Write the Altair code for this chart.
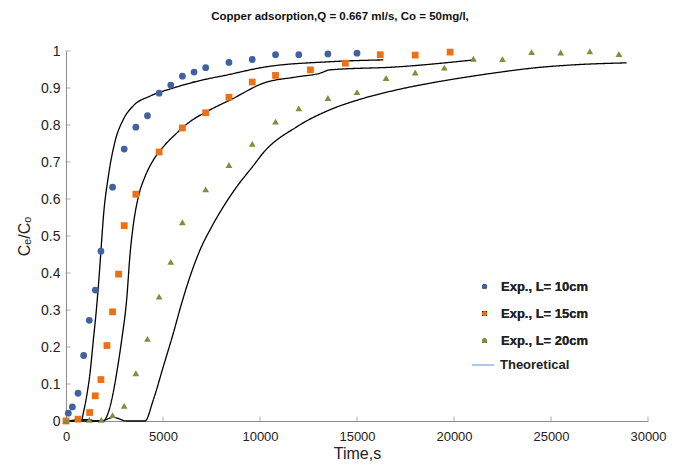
import altair as alt
import pandas as pd

TITLE = "Copper adsorption,Q = 0.667 ml/s, Co = 50mg/l,"
SERIES = ["Exp., L= 10cm", "Exp., L= 15cm", "Exp., L= 20cm"]
THEO = "Theoretical"

# experimental data
t10 = [120, 330, 620, 910, 1200, 1510, 1800, 2400, 3000, 3600, 4200, 4800, 5400, 6000,
       6600, 7200, 8400, 9600, 10800, 12000, 13500, 15000]
c10 = [0.021, 0.038, 0.075, 0.177, 0.272, 0.354, 0.459, 0.632, 0.735, 0.794, 0.825, 0.886,
       0.908, 0.932, 0.943, 0.955, 0.969, 0.977, 0.990, 0.990, 0.992, 0.994]

t15 = [0, 620, 1220, 1510, 1800, 2110, 2400, 2710, 3000, 3600, 4800, 6000, 7200, 8400,
       9600, 10800, 12600, 14400, 16200, 18000, 19800]
c15 = [0.0, 0.005, 0.023, 0.068, 0.112, 0.204, 0.295, 0.397, 0.528, 0.613, 0.727, 0.792,
       0.833, 0.875, 0.916, 0.934, 0.949, 0.967, 0.990, 0.989, 0.997]

t20 = [0, 1200, 1820, 2400, 3000, 3600, 4200, 4800, 5400, 6000, 7200, 8400, 9600, 10800,
       12000, 13500, 15000, 16500, 18000, 19500, 21000, 22500, 24000, 25500, 27000, 28500]
c20 = [0.0, 0.003, 0.003, 0.016, 0.041, 0.129, 0.222, 0.336, 0.430, 0.537, 0.626, 0.692,
       0.749, 0.809, 0.845, 0.873, 0.889, 0.927, 0.942, 0.955, 0.979, 0.978, 0.997, 0.996,
       0.999, 0.992]

# theoretical curves
tt10 = [0, 500, 810, 890, 1030, 1237, 1410, 1580, 1720, 1840, 1925, 2180, 2525, 2955, 3470,
        4330, 5530, 6740, 8280, 10170, 13600, 16360]
ct10 = [0.0, 0.0, 0.003, 0.021, 0.057, 0.129, 0.219, 0.309, 0.400, 0.489, 0.550, 0.660, 0.755,
        0.815, 0.852, 0.878, 0.900, 0.918, 0.935, 0.956, 0.971, 0.976]

tt15 = [0, 1200, 1500, 1925, 2100, 2355, 2610, 2870, 3130, 3300, 3470, 3730, 4070, 4500, 5015,
        5705, 6390, 7250, 8625, 10170, 11890, 13090, 13600, 17050, 21045]
ct15 = [0.0, 0.004, 0.0, 0.0, 0.012, 0.057, 0.129, 0.219, 0.330, 0.450, 0.530, 0.606, 0.660,
        0.705, 0.741, 0.778, 0.809, 0.836, 0.872, 0.913, 0.930, 0.940, 0.949, 0.957, 0.976]

tt20 = [0, 1800, 2440, 3130, 4070, 4500, 5015, 5530, 5960, 6390, 6907, 7510, 8110, 8800, 9655,
        10170, 11890, 13600, 15325, 17050, 18760, 20825, 22540, 24260, 25980, 28900]
ct20 = [0.0, 0.0, 0.010, 0.0, 0.0, 0.057, 0.147, 0.237, 0.318, 0.390, 0.462, 0.525, 0.579,
        0.633, 0.690, 0.725, 0.795, 0.841, 0.872, 0.895, 0.913, 0.931, 0.944, 0.955, 0.962,
        0.968]

x_ticks = [0, 5000, 10000, 15000, 20000, 25000, 30000]
y_ticks = [0, 0.1, 0.2, 0.3, 0.4, 0.5, 0.6, 0.7, 0.8, 0.9, 1]

COLORS = ["#41629E", "#EC7014", "#77933C"]
SHAPES = ["circle", "square", "triangle-up"]

pts = pd.concat([
    pd.DataFrame({"t": t, "c": c, "series": s})
    for t, c, s in zip([t10, t15, t20], [c10, c15, c20], SERIES)
], ignore_index=True)

curves = pd.concat([
    pd.DataFrame({"t": t, "c": c, "curve": s, "kind": THEO})
    for t, c, s in zip([tt10, tt15, tt20], [ct10, ct15, ct20], SERIES)
], ignore_index=True)

W, H = 582, 370
FONT = "Liberation Sans"

xs = alt.Scale(domain=[0, 30000], nice=False)
ys = alt.Scale(domain=[0, 1], nice=False)

x_axis = alt.Axis(values=x_ticks, format="d", title="Time,s", labelFontSize=13,
                  titleFontSize=16, titleFontWeight="normal", labelPadding=9,
                  titlePadding=2, ticks=False, grid=False, labelOverlap=False,
                  labelFlush=False)
y_axis = alt.Axis(values=y_ticks, format="~g", title="Cₑ/Cₒ", labelFontSize=14,
                  titleFontSize=16, titleFontWeight="normal", labelPadding=6,
                  titlePadding=8, ticks=False, grid=False, labelOverlap=False,
                  labelFlush=False)

X = alt.X("t:Q", scale=xs, axis=x_axis)
Y = alt.Y("c:Q", scale=ys, axis=y_axis)

pt_legend = alt.Legend(title=None, orient="none", legendX=412, legendY=229,
                       labelFontSize=13, labelFontWeight="bold", labelFont=FONT,
                       labelColor="#222222", symbolSize=26, rowPadding=13,
                       labelOffset=10)

lines = alt.Chart(curves).mark_line(color="black", strokeWidth=1.3,
                                    interpolate="monotone").encode(
    x=X, y=Y,
    detail="curve:N",
    strokeDash=alt.StrokeDash("kind:N", scale=alt.Scale(domain=[THEO], range=[[1, 0]]),
                              legend=alt.Legend(title=None, orient="none", legendX=405,
                                                legendY=302, labelFontSize=13,
                                                labelFontWeight="bold", labelFont=FONT,
                                                labelColor="#222222", symbolSize=500,
                                                symbolStrokeColor="#9DB3DD",
                                                symbolStrokeWidth=1.5, labelOffset=5)),
)

points = alt.Chart(pts).mark_point(filled=True, opacity=1, size=46).encode(
    x=X, y=Y,
    color=alt.Color("series:N", scale=alt.Scale(domain=SERIES, range=COLORS), legend=pt_legend),
    shape=alt.Shape("series:N", scale=alt.Scale(domain=SERIES, range=SHAPES), legend=pt_legend),
)

yt = alt.Chart(pd.DataFrame({"v": y_ticks})).mark_tick(color="#8c8c8c", size=5,
                                                       thickness=1, orient="horizontal").encode(
    y=alt.Y("v:Q", scale=ys, axis=y_axis), x=alt.value(2))
xt = alt.Chart(pd.DataFrame({"v": x_ticks})).mark_tick(color="#8c8c8c", size=5,
                                                       thickness=1, orient="vertical").encode(
    x=alt.X("v:Q", scale=xs, axis=x_axis), y=alt.value(H - 2))

title = alt.Chart(pd.DataFrame({"txt": [TITLE]})).mark_text(
    font=FONT, fontSize=11.5, fontWeight="bold", color="#111111", align="center",
    baseline="middle").encode(text="txt:N", x=alt.value(274), y=alt.value(-34))

chart = alt.layer(lines, points, yt, xt, title).properties(
    width=W, height=H,
    autosize=alt.AutoSizeParams(type="none"),
    padding={"left": 58, "top": 43, "right": 23, "bottom": 41},
).configure_view(stroke=None).configure_axis(
    domainColor="#8c8c8c", domainWidth=1, labelFont=FONT, titleFont=FONT,
    labelColor="#222222", titleColor="#222222", labelOverlap=False, labelFlush=False,
).configure_legend(labelFontWeight="bold", labelFont=FONT).resolve_scale(color="independent")

chart.save("out.html", embed_options={"renderer": "svg", "actions": False})
